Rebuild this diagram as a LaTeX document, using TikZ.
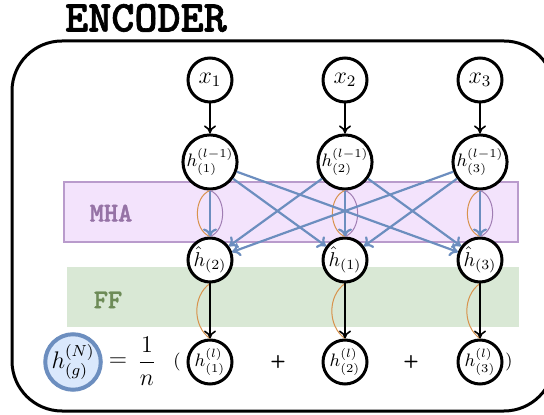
\documentclass[tikz,border=0pt]{standalone}
\usepackage{fontspec}
\newfontfamily\headfont{lmmonolt10-bold}[Extension=.otf,FakeBold=1.5]
\usetikzlibrary{arrows.meta}
\usetikzlibrary{positioning}

\definecolor{mhafill}{HTML}{F3E3FC}
\definecolor{mhaline}{HTML}{B99BCC}
\definecolor{mhatext}{HTML}{9673A6}
\definecolor{fffill}{HTML}{D9E8D5}
\definecolor{fftext}{HTML}{6D8B57}
\definecolor{attblue}{HTML}{6C8EBF}
\definecolor{poolfill}{HTML}{DAE8FC}
\definecolor{resorange}{HTML}{D8924C}
\definecolor{respurple}{HTML}{A07DB3}

\begin{document}
\begin{tikzpicture}[x=0.5pt,y=-0.5pt,
  tok/.style={circle,draw=black,line width=1.5pt,fill=white,minimum size=22pt,inner sep=0pt},
  att/.style={attblue,line width=1.1pt,-{To[length=4pt,width=7pt]}},
  flow/.style={black,line width=0.8pt,-{To[length=4pt,width=6pt]}},
  resid/.style={resorange,line width=0.5pt},
  bandlabel/.style={font=\fontsize{13.5}{15}\headfont}]

\useasboundingbox (0,0) rectangle (544,415);
\begin{scope}
\clip (0,0) rectangle (544,415);
\draw[line width=1.5pt,rounded corners=25pt] (12,41) rectangle (554,411);
\end{scope}
\node[font=\fontsize{22}{24}\headfont] (title) at (146,18) {ENCODER};

% attention and feed-forward bands
\draw[fill=mhafill,draw=mhaline,line width=0.6pt] (64,182) rectangle (518,242);
\node[bandlabel,text=mhatext] (mha) at (111,213) {MHA};
\fill[fffill] (67,267) rectangle (519,327);
\node[bandlabel,text=fftext] (ff) at (108,300) {FF};

% inputs
\node[tok,font=\large] (x1) at (210,80) {$x_1$};
\node[tok,font=\large] (x2) at (345,80) {$x_2$};
\node[tok,font=\large] (x3) at (480,80) {$x_3$};

% previous layer states
\node[tok,font=\small] (hp1) at (210,162) {$h^{(l-1)}_{(1)}$};
\node[tok,font=\small] (hp2) at (345,162) {$h^{(l-1)}_{(2)}$};
\node[tok,font=\small] (hp3) at (480,162) {$h^{(l-1)}_{(3)}$};

% attention outputs
\node[tok] (hat2) at (210,260) {$\hat{h}_{(2)}$};
\node[tok] (hat1) at (345,260) {$\hat{h}_{(1)}$};
\node[tok] (hat3) at (480,260) {$\hat{h}_{(3)}$};

% layer outputs
\node[tok,font=\small] (hl1) at (210,362) {$h^{(l)}_{(1)}$};
\node[tok,font=\small] (hl2) at (345,362) {$h^{(l)}_{(2)}$};
\node[tok,font=\small] (hl3) at (480,362) {$h^{(l)}_{(3)}$};

% pooled graph vector
\node[tok,draw=attblue,fill=poolfill,line width=2pt,minimum size=24pt,font=\large] (hg) at (73,362) {$h^{(N)}_{(g)}$};
\node[font=\large] (eq) at (118,362) {$=$};
\node[font=\large] (frac) at (147,361) {$\displaystyle\frac{1}{n}$};
\node[font=\small] (lp) at (177,362) {(};
\node[font=\sffamily\bfseries\small] (p1) at (278,362) {+};
\node[font=\sffamily\bfseries\small] (p2) at (411,362) {+};
\node[font=\small] (rp) at (509,362) {)};

\foreach \i in {1,2,3}
  \draw[flow] (x\i) -- (hp\i);

% residual arcs
\foreach \i/\j in {1/2,2/1,3/3} {
  \draw[resid] (hp\i.south) to[bend right=70] (hat\j.north);
  \draw[resid,respurple] (hp\i.south) to[bend left=70] (hat\j.north);
  \draw[resid] (hat\j.south) to[bend right=55] (hl\i.north);
  \draw[flow] (hat\j) -- (hl\i);
}

% every state attends to every token
\foreach \i in {1,2,3}
  \foreach \j in {1,2,3}
    \draw[att] (hp\i) -- (hat\j);

\end{tikzpicture}
\end{document}
